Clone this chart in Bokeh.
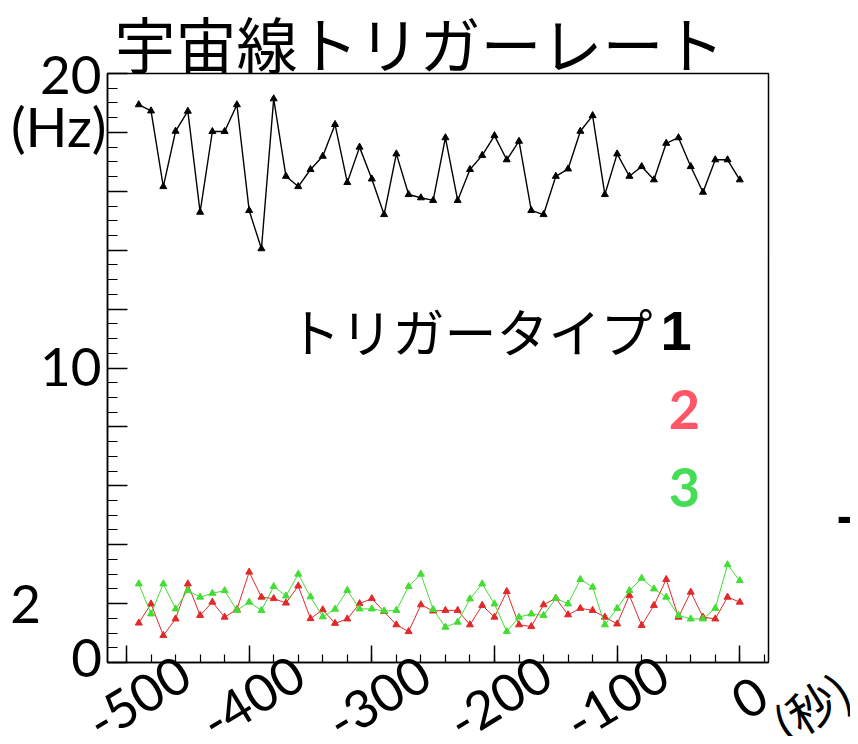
from bokeh.plotting import figure
from bokeh.models import Range1d, FixedTicker, Label, LinearAxis
from bokeh.embed import file_html
from bokeh.resources import INLINE

# ---------------- data ----------------
time_s = list(range(-490, 1, 10))  # 50 samples, one every 10 s

rate_type1 = [18.94, 18.73, 16.16, 18.04, 18.72, 15.29, 18.03, 18.03, 18.94, 15.35,
              14.05, 19.14, 16.51, 16.16, 16.74, 17.19, 18.27, 16.30, 17.50, 16.42,
              15.21, 17.27, 15.89, 15.78, 15.69, 17.82, 15.69, 16.74, 17.22, 17.89,
              17.07, 17.70, 15.35, 15.21, 16.51, 16.76, 18.04, 18.57, 15.89, 17.27,
              16.51, 16.84, 16.39, 17.63, 17.82, 16.84, 15.97, 17.07, 17.07, 16.39]

rate_type2 = [1.34, 1.99, 0.92, 1.48, 2.67, 1.60, 2.05, 1.54, 1.80, 3.07,
              2.22, 2.17, 2.02, 2.60, 1.49, 1.79, 1.33, 1.48, 2.00, 2.17,
              1.73, 1.28, 1.05, 1.96, 1.75, 1.77, 1.77, 1.28, 1.94, 1.54,
              2.41, 1.28, 1.22, 1.96, 2.18, 1.62, 1.84, 1.77, 1.54, 1.31,
              2.28, 1.26, 1.94, 2.82, 1.54, 2.39, 1.54, 1.48, 2.22, 2.05]

rate_type3 = [2.67, 1.65, 2.67, 1.82, 2.44, 2.22, 2.35, 2.44, 1.77, 2.05,
              1.77, 2.58, 2.26, 3.00, 2.23, 1.55, 1.81, 2.45, 1.82, 1.82,
              1.75, 1.77, 2.58, 3.00, 1.80, 1.20, 1.37, 2.16, 2.67, 1.99,
              1.05, 1.54, 1.65, 1.60, 2.18, 1.99, 2.82, 2.56, 1.28, 1.84,
              2.44, 2.86, 2.50, 2.22, 1.60, 1.48, 1.48, 1.84, 3.32, 2.78]

x_major_ticks = [-500, -400, -300, -200, -100, 0]
x_tick_labels = ["-500", "-400", "-300", "-200", "-100", "0"]
y_label_values = [0, 2, 10, 20]
y_tick_labels = ["0", "2", "10", "20"]

title_text = "宇宙線トリガーレート"
y_unit_text = "(Hz)"
x_unit_text = "(秒)"
legend_text = "トリガータイプ"
series_names = ["1", "2", "3"]

# ---------------- layout helpers ----------------
# plot box (data extent) and where it sits in the picture
X0, X1 = -515.5, 23.4
Y0, Y1 = 0.0, 20.0
BOX_L, BOX_R, BOX_T, BOX_B = 107, 768, 73, 662   # picture pixels
W, H = 850, 736
PXX = (BOX_R - BOX_L) / (X1 - X0)
PXY = (BOX_B - BOX_T) / (Y1 - Y0)


def dx(px):
    return X0 + (px - BOX_L) / PXX


def dy(py):
    return Y0 + (BOX_B - py) / PXY


# the frame fills the whole canvas so that no text is clipped
p = figure(width=W, height=H,
           x_range=Range1d(dx(0), dx(W)), y_range=Range1d(dy(H), dy(0)),
           output_backend="svg", toolbar_location=None,
           x_axis_location=None, y_axis_location=None,
           min_border=0)
p.title.visible = False
p.xgrid.visible = False
p.ygrid.visible = False
p.background_fill_color = "white"
p.border_fill_color = "white"
p.outline_line_color = None

# axes pinned to the box edges, ticks pointing inwards
xax = LinearAxis(fixed_location=Y0, bounds=(X0, X1),
                 ticker=FixedTicker(ticks=x_major_ticks,
                                    minor_ticks=list(range(-500, 21, 20))))
yax = LinearAxis(fixed_location=X0, bounds=(Y0, Y1),
                 ticker=FixedTicker(ticks=list(range(0, 21, 2)),
                                    minor_ticks=[i * 0.5 for i in range(0, 41)]))
for ax in (xax, yax):
    ax.axis_line_color = "black"
    ax.axis_line_width = 1.5
    ax.major_tick_line_color = "black"
    ax.minor_tick_line_color = "black"
    ax.major_tick_line_width = 1.5
    ax.minor_tick_line_width = 1.2
    ax.major_tick_out = 0
    ax.minor_tick_out = 0
    ax.major_label_text_font_size = "1px"
    ax.major_label_text_alpha = 0
xax.major_tick_in = 17
xax.minor_tick_in = 8
yax.major_tick_in = 20
yax.minor_tick_in = 10
xax.major_label_overrides = {t: "" for t in x_major_ticks}
yax.major_label_overrides = {t: "" for t in range(0, 21, 2)}
p.add_layout(xax, "below")
p.add_layout(yax, "left")

# box outline (top and right edges) from the axis extents
p.quad(left=[X0], right=[X1], bottom=[Y0], top=[Y1], fill_color=None,
       line_color="black", line_width=1.5)

# ---------------- series ----------------
series = [(rate_type1, "black", 1.4, 7), (rate_type2, "#e02a2a", 1.0, 7),
          (rate_type3, "#44dd33", 1.0, 7)]
for vals, col, lw, ms in series:
    p.line(time_s, vals, line_color=col, line_width=lw)
    p.scatter(time_s, vals, marker="triangle", size=ms, fill_color=col,
              line_color=col)

# ---------------- texts ----------------
num_font = "Lato"
cjk_font = "Noto Sans CJK JP"


def add_label(px, py, text, font, size, color="black", align="center",
              baseline="middle", angle=0.0, style="normal"):
    p.add_layout(Label(x=dx(px), y=dy(py), text=text, text_font=font,
                       text_font_size=size, text_color=color,
                       text_align=align, text_baseline=baseline,
                       angle=angle, text_font_style=style))


add_label(114, 42, title_text, cjk_font, "61px", align="left")

# y tick labels
y_label_px = {0: (86, 657, "center"), 2: (25, 603, "center"),
              10: (101, 366, "right"), 20: (101, 74, "right")}
for v, t in zip(y_label_values, y_tick_labels):
    px, py, al = y_label_px[v]
    add_label(px, py, t, num_font, "53px", align=al)
add_label(106, 125, y_unit_text, num_font, "55px", align="right")

# x tick labels, rotated
x_center = {-500: 138, -400: 252, -300: 378, -200: 499, -100: 616, 0: 749}
for v, t in zip(x_major_ticks, x_tick_labels):
    add_label(x_center[v], 697, t, num_font, "52px", angle=0.55)
add_label(810, 705, x_unit_text, cjk_font, "48px", angle=0.55)

# legend-like texts
add_label(288, 330, legend_text, cjk_font, "52px", align="left")
add_label(660, 330, series_names[0], "Liberation Sans", "56px",
          align="left", style="bold")
add_label(684, 409, series_names[1], "Lato", "54px",
          color="#ff5566", style="bold")
add_label(684, 487, series_names[2], "Lato", "54px",
          color="#44dd55", style="bold")
add_label(846, 516, "-", num_font, "60px", style="bold")

open("out.html", "w").write(file_html(p, INLINE))
